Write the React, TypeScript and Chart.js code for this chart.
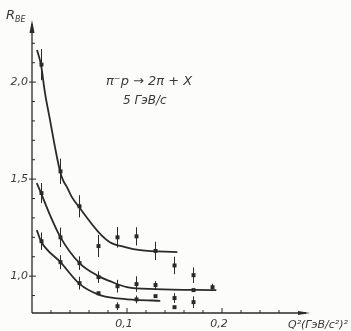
import React, { useEffect, useRef } from 'react';
import { Chart, registerables } from 'chart.js';
Chart.register(...registerables);

// ---- data ----
const topQ = [0.01, 0.03, 0.05, 0.07, 0.09, 0.11, 0.13, 0.15, 0.17];
const topR = [2.09, 1.54, 1.36, 1.155, 1.2, 1.205, 1.13, 1.055, 1.005];
const topErr = [0.08, 0.065, 0.057, 0.057, 0.053, 0.047, 0.047, 0.045, 0.04];

const midQ = [0.01, 0.03, 0.05, 0.07, 0.09, 0.11, 0.13, 0.15, 0.17, 0.19];
const midR = [1.428, 1.2, 1.067, 0.995, 0.948, 0.959, 0.954, 0.887, 0.928, 0.943];
const midErr = [0.052, 0.05, 0.035, 0.03, 0.033, 0.04, 0.02, 0.025, 0, 0.018];

const botQ = [0.01, 0.03, 0.05, 0.07, 0.09, 0.11, 0.13, 0.15, 0.17];
const botR = [1.18, 1.072, 0.964, 0.912, 0.845, 0.88, 0.897, 0.84, 0.866];
const botErr = [0.045, 0.036, 0.033, 0, 0.02, 0.02, 0, 0, 0.03];

// fitted curves
const topCurveQ = [0.0053, 0.0095, 0.0137, 0.019, 0.0242, 0.0295, 0.0326, 0.0368, 0.042, 0.0495, 0.07, 0.082, 0.098, 0.114, 0.153];
const topCurveR = [2.165, 2.088, 1.943, 1.804, 1.665, 1.541, 1.495, 1.459, 1.407, 1.356, 1.227, 1.175, 1.15, 1.134, 1.124];
const midCurveQ = [0.005, 0.0095, 0.019, 0.03, 0.05, 0.07, 0.082, 0.1, 0.13, 0.194];
const midCurveR = [1.479, 1.428, 1.314, 1.2, 1.067, 1.0, 0.974, 0.943, 0.933, 0.928];
const botCurveQ = [0.005, 0.0095, 0.03, 0.05, 0.07, 0.09, 0.11, 0.135];
const botCurveR = [1.237, 1.18, 1.072, 0.96, 0.905, 0.885, 0.878, 0.873];

// ticks
const yMajorTicks = [1.0, 1.5, 2.0];
const yTickLabels = ['1,0', '1,5', '2,0'];
const yMinorTicks = [0.9, 1.1, 1.2, 1.3, 1.4, 1.6, 1.7, 1.8, 1.9, 2.1, 2.2];
const xMajorTicks = [0.1, 0.2];
const xTickLabels = ['0,1', '0,2'];
const xMinorTicks = [0.02, 0.04, 0.06, 0.08, 0.12, 0.14, 0.16, 0.18, 0.22, 0.24, 0.26];

const W = 351;
const H = 331;
const INK = '#2a2a2a';
const TEXT = '#3a3a3a';

const pts = (q: number[], r: number[]) => q.map((x, i) => ({ x, y: r[i] }));

export default function App() {
  const ref = useRef<HTMLCanvasElement>(null);
  useEffect(() => {
    document.body.style.margin = '0';
    const canvas = ref.current!;
    const errSets = [
      { q: topQ, r: topR, e: topErr },
      { q: midQ, r: midR, e: midErr },
      { q: botQ, r: botR, e: botErr },
    ];
    const plugin = {
      id: 'sketchAxes',
      beforeDatasetsDraw(chart: any) {
        const ctx = chart.ctx;
        const xs = chart.scales.x;
        const ys = chart.scales.y;
        const x0 = xs.getPixelForValue(0);
        const yb = ys.getPixelForValue(ys.min);
        const yt = ys.getPixelForValue(ys.max);
        const xr = xs.getPixelForValue(xs.max);
        ctx.save();
        ctx.strokeStyle = INK;
        ctx.fillStyle = INK;
        ctx.lineWidth = 1.3;
        ctx.beginPath();
        ctx.moveTo(x0, yb);
        ctx.lineTo(x0, yt + 4);
        ctx.moveTo(x0, yb);
        ctx.lineTo(xr - 4, yb);
        ctx.stroke();
        // arrows
        ctx.beginPath();
        ctx.moveTo(x0, yt);
        ctx.lineTo(x0 - 2.5, yt + 13);
        ctx.lineTo(x0 + 2.5, yt + 13);
        ctx.closePath();
        ctx.fill();
        ctx.beginPath();
        ctx.moveTo(xr, yb);
        ctx.lineTo(xr - 12, yb - 2);
        ctx.lineTo(xr - 12, yb + 2);
        ctx.closePath();
        ctx.fill();
        // ticks
        ctx.lineWidth = 1;
        ctx.beginPath();
        yMinorTicks.forEach((v) => {
          const y = ys.getPixelForValue(v);
          ctx.moveTo(x0, y);
          ctx.lineTo(x0 + 3, y);
        });
        yMajorTicks.forEach((v) => {
          const y = ys.getPixelForValue(v);
          ctx.moveTo(x0 - 3, y);
          ctx.lineTo(x0 + 4, y);
        });
        xMinorTicks.forEach((v) => {
          const x = xs.getPixelForValue(v);
          ctx.moveTo(x, yb);
          ctx.lineTo(x, yb - 3);
        });
        xMajorTicks.forEach((v) => {
          const x = xs.getPixelForValue(v);
          ctx.moveTo(x, yb);
          ctx.lineTo(x, yb - 5);
        });
        ctx.stroke();
        // tick labels
        ctx.fillStyle = TEXT;
        ctx.font = 'italic 11px "DejaVu Sans"';
        ctx.textBaseline = 'middle';
        ctx.textAlign = 'right';
        yMajorTicks.forEach((v, i) => {
          ctx.fillText(yTickLabels[i], x0 - 4, ys.getPixelForValue(v));
        });
        ctx.textAlign = 'center';
        xMajorTicks.forEach((v, i) => {
          ctx.fillText(xTickLabels[i], xs.getPixelForValue(v) - 3, yb + 11);
        });
        // axis titles
        ctx.textAlign = 'left';
        ctx.textBaseline = 'alphabetic';
        ctx.font = 'italic 13px "DejaVu Sans"';
        ctx.fillText('R', 6, 19);
        ctx.font = 'italic 8px "DejaVu Sans"';
        ctx.fillText('BE', 15, 22);
        ctx.font = 'italic 11px "DejaVu Sans"';
        ctx.fillText('Q²(ГэВ/c²)²', 288, 328);
        // reaction text
        ctx.font = 'italic 13px "DejaVu Sans"';
        ctx.fillText('π⁻p → 2π + X', 106, 85);
        ctx.font = 'italic 12px "DejaVu Sans"';
        ctx.fillText('5 ГэВ/с', 123, 104);
        ctx.restore();
      },
      afterDatasetsDraw(chart: any) {
        const ctx = chart.ctx;
        const xs = chart.scales.x;
        const ys = chart.scales.y;
        ctx.save();
        ctx.strokeStyle = INK;
        ctx.lineWidth = 1;
        ctx.beginPath();
        errSets.forEach((s) => {
          s.q.forEach((q, i) => {
            if (!s.e[i]) return;
            const x = xs.getPixelForValue(q);
            ctx.moveTo(x, ys.getPixelForValue(s.r[i] + s.e[i]));
            ctx.lineTo(x, ys.getPixelForValue(s.r[i] - s.e[i]));
          });
        });
        ctx.stroke();
        ctx.restore();
      },
    };

    const curve = (q: number[], r: number[]) => ({
      type: 'line' as const,
      data: pts(q, r),
      borderColor: INK,
      borderWidth: 1.8,
      pointRadius: 0,
      cubicInterpolationMode: 'monotone' as const,
      fill: false,
    });
    const marks = (q: number[], r: number[]) => ({
      type: 'scatter' as const,
      data: pts(q, r),
      backgroundColor: INK,
      borderColor: INK,
      borderWidth: 0,
      pointStyle: 'rect' as const,
      pointRadius: 2.8,
    });

    const chart = new Chart(canvas, {
      type: 'scatter',
      data: {
        datasets: [
          curve(topCurveQ, topCurveR),
          curve(midCurveQ, midCurveR),
          curve(botCurveQ, botCurveR),
          marks(topQ, topR),
          marks(midQ, midR),
          marks(botQ, botR),
        ] as any,
      },
      options: {
        animation: false,
        responsive: false,
        devicePixelRatio: 1,
        layout: { padding: { left: 32, right: 41, top: 20, bottom: 18 } },
        plugins: { legend: { display: false }, tooltip: { enabled: false } },
        scales: {
          x: { type: 'linear', min: 0, max: 0.2926, display: false },
          y: { type: 'linear', min: 0.81, max: 2.32, display: false },
        },
      },
      plugins: [plugin],
    });
    return () => chart.destroy();
  }, []);
  return (
    <div style={{ position: 'absolute', left: 0, top: 0, width: W, height: H, background: '#fcfcfa' }}>
      <canvas ref={ref} width={W} height={H} />
    </div>
  );
}
